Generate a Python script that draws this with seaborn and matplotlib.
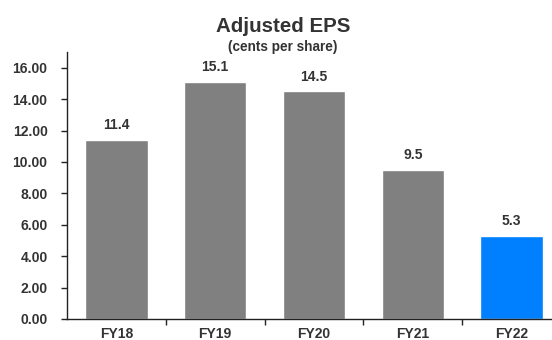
import matplotlib
matplotlib.use("Agg")
import matplotlib.pyplot as plt
import seaborn as sns
import pandas as pd

# Adjusted EPS by financial year (cents per share)
years = ["FY18", "FY19", "FY20", "FY21", "FY22"]
eps = [11.4, 15.1, 14.5, 9.5, 5.3]
bar_colors = ["#808080", "#808080", "#808080", "#808080", "#0080FF"]
y_ticks = [0, 2, 4, 6, 8, 10, 12, 14, 16]

sns.set_theme(style="white")
plt.rcParams["font.family"] = ["Liberation Sans", "DejaVu Sans"]

df = pd.DataFrame({"year": years, "eps": eps})

fig = plt.figure(figsize=(5.52, 3.40), dpi=100)
ax = fig.add_axes([67 / 552, 21 / 340, 494 / 552, 267 / 340])

sns.barplot(data=df, x="year", y="eps", hue="year", palette=bar_colors,
            legend=False, width=0.63, saturation=1, ax=ax)

text_color = "#333333"
for i, v in enumerate(eps):
    ax.annotate(f"{v:.1f}", (i, v), xytext=(0, 5.5), textcoords="offset points",
                ha="center", va="bottom", fontsize=10, fontweight="bold",
                color=text_color)

ax.set_xlim(-0.5, len(years) - 0.5)
ax.set_ylim(0, 17)
ax.set_yticks(y_ticks)
ax.set_yticklabels([f"{t:.2f}" for t in y_ticks])
ax.set_xlabel("")
ax.set_ylabel("")

# category ticks sit between bars
ax.set_xticks([i + 0.5 for i in range(len(years) - 1)], minor=True)
ax.tick_params(axis="x", which="minor", bottom=True, length=4, width=1,
               color="#222222", direction="out")
ax.tick_params(axis="x", which="major", bottom=False, length=0, pad=6)
ax.tick_params(axis="y", left=True, length=4, width=1, color="#222222",
               direction="out", pad=10)
for lbl in ax.get_xticklabels() + ax.get_yticklabels():
    lbl.set_fontweight("bold")
    lbl.set_fontsize(10)
    lbl.set_color(text_color)

sns.despine(ax=ax, top=True, right=True)
for side in ("left", "bottom"):
    ax.spines[side].set_color("#222222")
    ax.spines[side].set_linewidth(1.0)

fig.text(283 / 552, 1 - 26 / 340, "Adjusted EPS", ha="center", va="center",
         fontsize=14.8, fontweight="bold", color=text_color)
fig.text(283 / 552, 1 - 46.5 / 340, "(cents per share)", ha="center", va="center",
         fontsize=9.8, fontweight="bold", color=text_color)

fig.savefig("out.png", dpi=100)
